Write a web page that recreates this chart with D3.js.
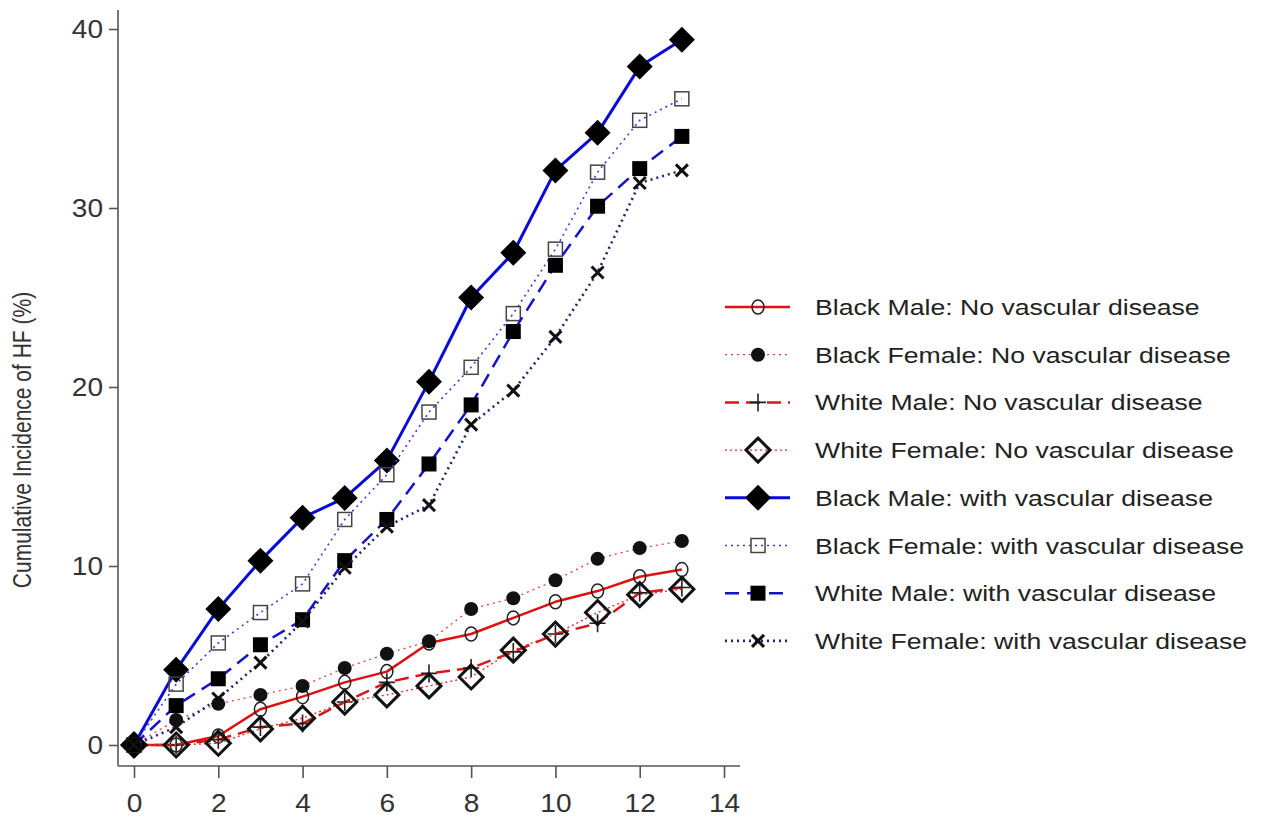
<!DOCTYPE html>
<html>
<head>
<meta charset="utf-8">
<script src="https://cdn.jsdelivr.net/npm/d3@7"></script>
<style>
  body { margin: 0; background: #fff; }
  svg { font-family: "Liberation Sans", Arial, sans-serif; }
</style>
</head>
<body>
<svg id="chart" width="1265" height="823"></svg>
<script>
// years of follow-up
const years = [0, 1, 2, 3, 4, 5, 6, 7, 8, 9, 10, 11, 12, 13];

// cumulative incidence (%)
const blackMaleNo     = [0, 0, 0.5, 2.0, 2.7, 3.5, 4.1, 5.7, 6.2, 7.1, 8.0, 8.6, 9.4, 9.8];
const blackFemaleNo   = [0, 1.4, 2.3, 2.8, 3.3, 4.3, 5.1, 5.8, 7.6, 8.2, 9.2, 10.4, 11.0, 11.4];
const whiteMaleNo     = [0, 0, 0.3, 1.0, 1.2, 2.4, 3.5, 4.0, 4.3, 5.2, 6.2, 6.8, 8.5, 8.8];
const whiteFemaleNo   = [0, 0, 0.1, 0.9, 1.5, 2.4, 2.8, 3.3, 3.8, 5.3, 6.2, 7.4, 8.4, 8.7];
const blackMaleWith   = [0, 4.2, 7.6, 10.3, 12.7, 13.8, 15.9, 20.3, 25.0, 27.5, 32.1, 34.2, 37.9, 39.4];
const blackFemaleWith = [0, 3.4, 5.7, 7.4, 9.0, 12.6, 15.1, 18.6, 21.1, 24.1, 27.7, 32.0, 34.9, 36.1];
const whiteMaleWith   = [0, 2.2, 3.7, 5.6, 7.0, 10.3, 12.6, 15.7, 19.0, 23.1, 26.8, 30.1, 32.2, 34.0];
const whiteFemaleWith = [0, 1.0, 2.6, 4.6, 6.9, 9.9, 12.2, 13.4, 17.9, 19.8, 22.8, 26.4, 31.4, 32.1];

const xTicks = [0, 2, 4, 6, 8, 10, 12, 14];
const yTicks = [0, 10, 20, 30, 40];

const series = [
  { name: "Black Male: No vascular disease",     values: blackMaleNo,     color: "#e01010", width: 2.5, dash: null,   marker: "openCircle" },
  { name: "Black Female: No vascular disease",   values: blackFemaleNo,   color: "#e04040", width: 1.3, dash: "2,4",  marker: "dot" },
  { name: "White Male: No vascular disease",     values: whiteMaleNo,     color: "#d81818", width: 2.5, dash: "14,7", marker: "plus" },
  { name: "White Female: No vascular disease",   values: whiteFemaleNo,   color: "#e03030", width: 1.4, dash: "2,3",  marker: "openDiamond" },
  { name: "Black Male: with vascular disease",   values: blackMaleWith,   color: "#0a0ad8", width: 3,   dash: null,   marker: "diamond" },
  { name: "Black Female: with vascular disease", values: blackFemaleWith, color: "#3a3ae0", width: 1.6, dash: "2,4",  marker: "openSquare" },
  { name: "White Male: with vascular disease",   values: whiteMaleWith,   color: "#1414c8", width: 2.5, dash: "14,8", marker: "square" },
  { name: "White Female: with vascular disease", values: whiteFemaleWith, color: "#24246e", width: 2.6, dash: "2,4",  marker: "cross" }
];

const svg = d3.select("#chart");

const x = d3.scaleLinear().domain([0, 14]).range([134, 724]);
const y = d3.scaleLinear().domain([0, 40]).range([745, 29]);

// stretch text a little wider, like the original figure
function widen(sel, k) {
  sel.each(function() {
    const len = this.getComputedTextLength();
    d3.select(this).attr("textLength", len * k).attr("lengthAdjust", "spacingAndGlyphs");
  });
}

// axes
const axisColor = "#555";
const xAxis = svg.append("g").attr("transform", "translate(0,766)")
  .call(d3.axisBottom(x).tickValues(xTicks).tickSize(12).tickPadding(16).tickSizeOuter(0));
xAxis.select(".domain").attr("d", "M118,0H740");
const yAxis = svg.append("g").attr("transform", "translate(118,0)")
  .call(d3.axisLeft(y).tickValues(yTicks).tickSize(9).tickPadding(6).tickSizeOuter(0));
yAxis.select(".domain").attr("d", "M0,10V766");

[xAxis, yAxis].forEach(a => {
  a.selectAll("path, line").attr("stroke", axisColor).attr("stroke-width", 1.6);
  a.selectAll("text").attr("font-size", 26).attr("fill", "#333")
    .attr("font-family", "Liberation Sans, Arial, sans-serif")
    .call(widen, 1.08);
});

svg.append("text")
  .attr("transform", "translate(22,440) scale(1.2,1) rotate(-90)")
  .attr("text-anchor", "middle")
  .attr("dy", "0.35em")
  .attr("font-size", 21)
  .attr("fill", "#333")
  .text("Cumulative Incidence of HF (%)");

// marker drawing
function drawMarker(g, type, cx, cy) {
  switch (type) {
    case "openCircle":
      g.append("ellipse").attr("cx", cx).attr("cy", cy).attr("rx", 6).attr("ry", 7)
        .attr("fill", "none").attr("stroke", "#222").attr("stroke-width", 1.5);
      break;
    case "dot":
      g.append("circle").attr("cx", cx).attr("cy", cy).attr("r", 7).attr("fill", "#111");
      break;
    case "plus":
      g.append("path").attr("d", `M${cx - 8},${cy}H${cx + 8}M${cx},${cy - 9}V${cy + 9}`)
        .attr("stroke", "#222").attr("stroke-width", 1.6);
      break;
    case "openDiamond":
      g.append("path").attr("d", `M${cx},${cy - 12}L${cx + 12},${cy}L${cx},${cy + 12}L${cx - 12},${cy}Z`)
        .attr("fill", "none").attr("stroke", "#111").attr("stroke-width", 3);
      break;
    case "diamond":
      g.append("path").attr("d", `M${cx},${cy - 13}L${cx + 13},${cy}L${cx},${cy + 13}L${cx - 13},${cy}Z`)
        .attr("fill", "#000");
      break;
    case "openSquare":
      g.append("rect").attr("x", cx - 7).attr("y", cy - 7).attr("width", 14).attr("height", 14)
        .attr("fill", "none").attr("stroke", "#444").attr("stroke-width", 1.5);
      break;
    case "square":
      g.append("rect").attr("x", cx - 7.5).attr("y", cy - 7.5).attr("width", 15).attr("height", 15)
        .attr("fill", "#000");
      break;
    case "cross":
      g.append("path").attr("d", `M${cx - 6},${cy - 6}L${cx + 6},${cy + 6}M${cx + 6},${cy - 6}L${cx - 6},${cy + 6}`)
        .attr("stroke", "#111").attr("stroke-width", 3);
      break;
  }
}

const line = d3.line().x((d, i) => x(years[i])).y(d => y(d));

series.forEach(s => {
  const g = svg.append("g");
  g.append("path")
    .attr("d", line(s.values))
    .attr("fill", "none")
    .attr("stroke", s.color)
    .attr("stroke-width", s.width)
    .attr("stroke-dasharray", s.dash)
    .attr("stroke-linejoin", "round");
  s.values.forEach((v, i) => drawMarker(g, s.marker, x(years[i]), y(v)));
});

// legend
const legend = svg.append("g");
series.forEach((s, i) => {
  const ly = 307 + i * 47.7;
  legend.append("line")
    .attr("x1", 725).attr("x2", 790).attr("y1", ly).attr("y2", ly)
    .attr("stroke", s.color).attr("stroke-width", s.width)
    .attr("stroke-dasharray", s.dash);
  drawMarker(legend, s.marker, 758, ly);
  legend.append("text")
    .attr("x", 815).attr("y", ly + 8)
    .attr("font-size", 22)
    .attr("fill", "#222")
    .text(s.name)
    .call(widen, 1.21);
});
</script>
</body>
</html>
